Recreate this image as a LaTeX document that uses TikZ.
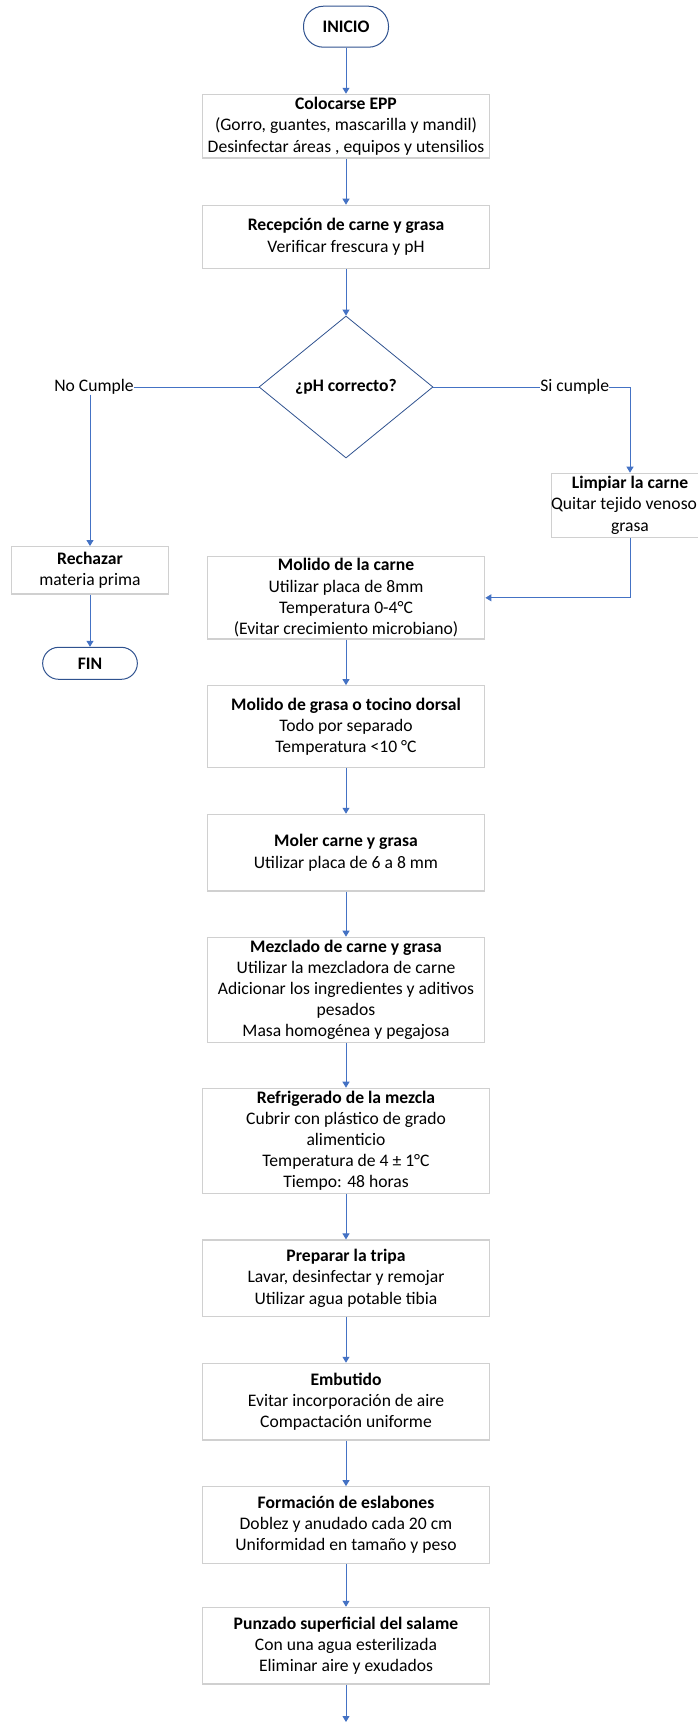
\documentclass[tikz,border=0pt]{standalone}
\usepackage{fontspec}
\setmainfont{Carlito}
\usepackage{tikz}
\usetikzlibrary{positioning,arrows.meta,shapes,calc}
\definecolor{flecha}{HTML}{4472C4}
\definecolor{borde}{HTML}{2F528F}
\definecolor{caja}{HTML}{D0D0D0}
\newcommand{\tit}[1]{\textbf{#1}}

\begin{document}
\begin{tikzpicture}[x=1pt,y=-1pt,
  every node/.style={font=\fontsize{17.6}{21.2}\selectfont, inner sep=0pt, align=center},
  proc/.style={draw=caja, line width=1.2pt, fill=white, minimum width=287pt},
  procn/.style={proc, minimum width=277.6pt},
  term/.style={draw=borde, line width=1pt, rounded corners=16pt, font=\fontsize{17.6}{21.2}\selectfont\bfseries},
  decis/.style={diamond, draw=borde, line width=0.8pt, minimum width=174pt, minimum height=142pt, font=\fontsize{17.6}{21.2}\selectfont\bfseries},
  arr/.style={draw=flecha, line width=1pt, -{Triangle[width=7pt,length=6pt]}},
  lin/.style={draw=flecha, line width=1pt}]
  \useasboundingbox (0,0) rectangle (698,1722);
  \node[term, rounded corners=20pt, minimum width=85pt, minimum height=41pt] (inicio) at (346,26.7) {INICIO};
  \node[proc, minimum height=63.7pt] (colocar) at (346,126.2) {\tit{Colocarse EPP}\\(Gorro, guantes, mascarilla y mandil)\\Desinfectar áreas , equipos y utensilios};
  \node[proc, minimum height=63pt] (recep) at (346,236.8) {\tit{Recepción de carne y grasa}\\Verificar frescura y pH};
  \node[decis] (ph) at (346,387) {¿pH correcto?};
  \node (nocumple) at (94,387) {No Cumple};
  \node (sicumple) at (574.7,387) {Si cumple};
  \node[proc, minimum width=156.6pt, minimum height=47.3pt] (rechazar) at (90,570.3) {\tit{Rechazar}\\materia prima};
  \node[term, minimum width=94.7pt, minimum height=32pt] (fin) at (90,663.3) {FIN};
  \node[proc, minimum width=156.6pt, minimum height=64pt] (limpiar) at (630,505.3) {\tit{Limpiar la carne}\\Quitar tejido venoso y\\grasa};
  \node[procn, minimum height=82.3pt] (molcarne) at (346,597.8) {\tit{Molido de la carne}\\Utilizar placa de 8mm\\Temperatura 0-4°C\\(Evitar crecimiento microbiano)};
  \node[procn, minimum height=81.6pt] (molgrasa) at (346,726.5) {\tit{Molido de grasa o tocino dorsal}\\Todo por separado\\Temperatura <10 °C};
  \node[procn, minimum height=76.7pt] (moler) at (346,852.7) {\tit{Moler carne y grasa}\\Utilizar placa de 6 a 8 mm};
  \node[procn, minimum height=105pt] (mezcla) at (346,989.8) {\tit{Mezclado de carne y grasa}\\Utilizar la mezcladora de carne\\Adicionar los ingredientes y aditivos\\pesados\\Masa homogénea y pegajosa};
  \node[proc, minimum height=105pt] (refri) at (346,1140.8) {\tit{Refrigerado de la mezcla}\\Cubrir con plástico de grado\\alimenticio\\Temperatura de 4 ± 1°C\\Tiempo: 48 horas};
  \node[proc, minimum height=76.3pt] (tripa) at (346,1278.2) {\tit{Preparar la tripa}\\Lavar, desinfectar y remojar\\Utilizar agua potable tibia};
  \node[proc, minimum height=76.7pt] (embutido) at (346,1401.7) {\tit{Embutido}\\Evitar incorporación de aire\\Compactación uniforme};
  \node[proc, minimum height=76.6pt] (eslabon) at (346,1525) {\tit{Formación de eslabones}\\Doblez y anudado cada 20 cm\\Uniformidad en tamaño y peso};
  \node[proc, minimum height=76.7pt] (punzado) at (346,1645.7) {\tit{Punzado superficial del salame}\\Con una agua esterilizada\\Eliminar aire y exudados};
  \coordinate (sigue) at (346,1722);
  \draw[arr] (inicio) -- (colocar);
  \draw[arr] (colocar) -- (recep);
  \draw[arr] (recep) -- (ph);
  \draw[lin] (ph.west) -- (nocumple.east);
  \draw[arr] (nocumple.south -| rechazar.north) -- (rechazar.north);
  \draw[arr] (rechazar) -- (fin);
  \draw[lin] (ph.east) -- (sicumple.west);
  \draw[arr] (sicumple.east) -| (limpiar.north);
  \draw[arr] (limpiar.south) |- (molcarne.east);
  \draw[arr] (molcarne) -- (molgrasa);
  \draw[arr] (molgrasa) -- (moler);
  \draw[arr] (moler) -- (mezcla);
  \draw[arr] (mezcla) -- (refri);
  \draw[arr] (refri) -- (tripa);
  \draw[arr] (tripa) -- (embutido);
  \draw[arr] (embutido) -- (eslabon);
  \draw[arr] (eslabon) -- (punzado);
  \draw[arr] (punzado) -- (sigue);
\end{tikzpicture}
\end{document}
